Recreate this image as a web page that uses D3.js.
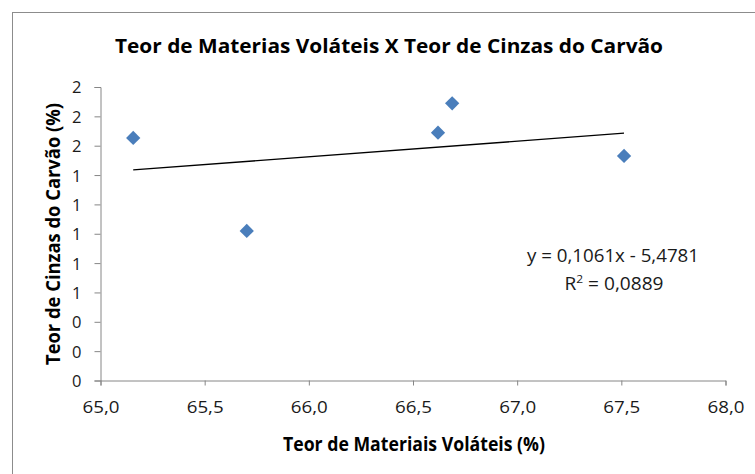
<!DOCTYPE html>
<html><head><meta charset="utf-8">
<script src="https://cdn.jsdelivr.net/npm/d3@7"></script>
<style>body{margin:0;background:#fff}svg{display:block}</style>
</head><body>
<script>
const xValues = [65.157, 65.702, 66.620, 66.688, 67.513];
const yValues = [1.653, 1.019, 1.689, 1.889, 1.530];
const xTicks = [65.0, 65.5, 66.0, 66.5, 67.0, 67.5, 68.0];
const yTicks = [0, 0.2, 0.4, 0.6, 0.8, 1.0, 1.2, 1.4, 1.6, 1.8, 2.0];
const trendSlope = 0.1061, trendIntercept = -5.4781;
const titleText = "Teor de Materias Voláteis X Teor de Cinzas do Carvão";
const xLabel = "Teor de Materiais  Voláteis (%)";
const yLabel = "Teor de Cinzas do Carvão  (%)";
const eqText = "y = 0,1061x - 5,4781";

const W = 755, H = 474;
const font = "'Open Sans', 'Liberation Sans', sans-serif";
const svg = d3.select("body").append("svg").attr("width", W).attr("height", H);

svg.append("rect").attr("x", 12.5).attr("y", 12.5).attr("width", 800).attr("height", 500)
  .attr("fill", "#fff").attr("stroke", "#8c8c8c").attr("stroke-width", 1);

const x = d3.scaleLinear().domain([65, 68]).range([100.5, 725.5]);
const y = d3.scaleLinear().domain([0, 2]).range([380.5, 87]);
const loc = d3.formatLocale({decimal: ",", thousands: ".", grouping: [3], currency: ["", ""]});

const gx = svg.append("g").attr("transform", "translate(0,380.5)")
  .call(d3.axisBottom(x).tickValues(xTicks).tickFormat(loc.format(".1f")).tickSize(5).tickSizeOuter(5).tickPadding(16));
const gy = svg.append("g").attr("transform", "translate(100.5,0)")
  .call(d3.axisLeft(y).tickValues(yTicks).tickFormat(d3.format(".0f")).tickSize(6).tickSizeOuter(6).tickPadding(13));
[gx, gy].forEach(g => {
  g.attr("font-size", null).attr("font-family", null);
  g.select(".domain").attr("stroke", "#868686");
  g.selectAll(".tick line").attr("stroke", "#868686");
  g.selectAll("text").attr("font-family", font).attr("font-size", 16.5).attr("fill", "#1a1a1a");
});
gx.selectAll("text").attr("textLength", 37).attr("lengthAdjust", "spacingAndGlyphs");
gy.selectAll("text").attr("dy", "0.36em");

// trend line
const xs = d3.extent(xValues);
svg.append("line")
  .attr("x1", x(xs[0])).attr("y1", y(trendSlope * xs[0] + trendIntercept))
  .attr("x2", x(xs[1])).attr("y2", y(trendSlope * xs[1] + trendIntercept))
  .attr("stroke", "#000").attr("stroke-width", 1.3);

// points
const sym = d3.symbol().type(d3.symbolDiamond2).size(130);
svg.append("g").selectAll("path").data(xValues.map((v, i) => [v, yValues[i]])).join("path")
  .attr("transform", d => `translate(${x(d[0])},${y(d[1])})`)
  .attr("d", sym).attr("fill", "#4a7ebb");

// title
svg.append("text").attr("x", 389).attr("y", 53).attr("text-anchor", "middle")
  .attr("font-family", font).attr("font-weight", "bold").attr("font-size", 19.5).attr("fill", "#000")
  .attr("textLength", 548).attr("lengthAdjust", "spacingAndGlyphs").text(titleText);

svg.append("text").attr("x", 414).attr("y", 451).attr("text-anchor", "middle")
  .attr("font-family", font).attr("font-weight", "bold").attr("font-size", 19).attr("fill", "#000")
  .attr("textLength", 262).attr("lengthAdjust", "spacingAndGlyphs").text(xLabel);

svg.append("text").attr("transform", "translate(60,234) rotate(-90)").attr("text-anchor", "middle")
  .attr("font-family", font).attr("font-weight", "bold").attr("font-size", 19).attr("fill", "#000")
  .attr("textLength", 262).attr("lengthAdjust", "spacingAndGlyphs").text(yLabel);

// equation
svg.append("text").attr("x", 613).attr("y", 262).attr("text-anchor", "middle")
  .attr("font-family", font).attr("font-size", 17.5).attr("fill", "#1a1a1a")
  .attr("textLength", 172).attr("lengthAdjust", "spacingAndGlyphs").text(eqText);
const r2 = svg.append("text").attr("x", 614).attr("y", 290).attr("text-anchor", "middle")
  .attr("font-family", font).attr("font-size", 17.5).attr("fill", "#1a1a1a")
  .attr("textLength", 99).attr("lengthAdjust", "spacingAndGlyphs");
r2.append("tspan").text("R");
r2.append("tspan").attr("font-size", 11).attr("dy", -7).text("2");
r2.append("tspan").attr("dy", 7).text(" = 0,0889");
</script>
</body></html>
